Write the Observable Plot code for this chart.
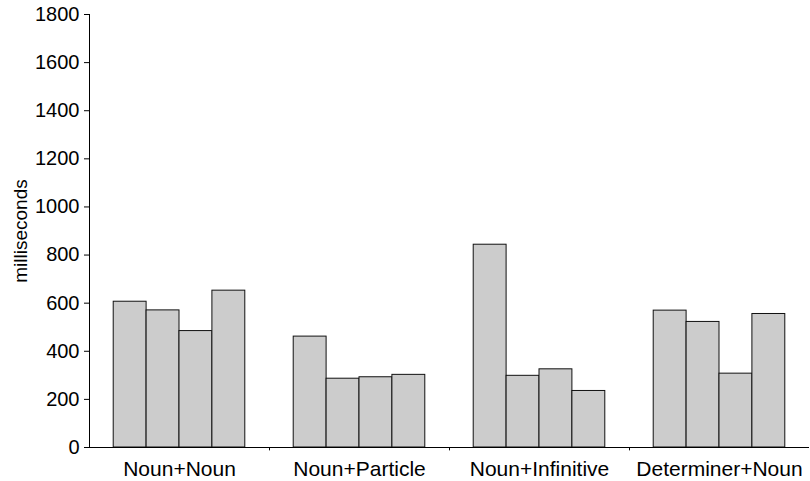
<!DOCTYPE html>
<html>
<head>
<meta charset="utf-8">
<script src="https://cdn.jsdelivr.net/npm/d3@7"></script>
<script src="https://cdn.jsdelivr.net/npm/@observablehq/plot@0.6"></script>
<style>
  html, body { margin: 0; padding: 0; background: #fff; }
  #chart svg { display: block; }
</style>
</head>
<body>
<div id="chart"></div>
<script>
const categories = ["Noun+Noun", "Noun+Particle", "Noun+Infinitive", "Determiner+Noun"];
const series1 = [606, 461, 843, 569];
const series2 = [570, 286, 298, 522];
const series3 = [484, 292, 325, 307];
const series4 = [652, 302, 235, 555];
const yTicks = [0, 200, 400, 600, 800, 1000, 1200, 1400, 1600, 1800];
const yLabel = "milliseconds";

const allSeries = [series1, series2, series3, series4];
const table = [];
categories.forEach((cat, c) => {
  allSeries.forEach((s, i) => table.push({cat, i, value: s[c]}));
});

const pad = 0.736; // outer padding of each group, in bar widths
const font = "'Liberation Sans', Arial, Helvetica, sans-serif";

const chart = Plot.plot({
  width: 810,
  height: 481,
  marginLeft: 88,
  marginRight: 0,
  marginTop: 14,
  marginBottom: 34,
  style: {fontFamily: font, color: "#000", background: "#fff"},
  fx: {domain: categories, padding: 0},
  x: {domain: [-pad, allSeries.length + pad], axis: null},
  y: {domain: [0, 1800]},
  marks: [
    Plot.rectY(table, {fx: "cat", x1: "i", x2: d => d.i + 1, y: "value",
      fill: "#cccccc", stroke: "#111", strokeWidth: 1}),
    Plot.ruleY([0], {stroke: "#000", strokeWidth: 1}),
    Plot.ruleX(categories.slice(1), {fx: d => d, x: () => -pad, y1: 0, y2: -14, stroke: "#000"}),
    Plot.ruleX(categories.slice(0, 1), {fx: d => d, x: () => -pad, y1: 0, y2: 1800, stroke: "#000", strokeWidth: 1}),
    Plot.axisY({ticks: yTicks, tickFormat: d => String(d), tickSize: 5, tickPadding: 5, fontSize: 20, label: null}),
    Plot.text([yLabel], {fx: () => categories[0], frameAnchor: "left", dx: -69, rotate: -90,
      text: d => d, fontSize: 19, textAnchor: "middle", lineAnchor: "middle", fill: "#000"}),
    Plot.axisFx({anchor: "bottom", tickSize: 0, tickPadding: 14, fontSize: 21, label: null})
  ]
});
document.getElementById("chart").appendChild(chart);
</script>
</body>
</html>
